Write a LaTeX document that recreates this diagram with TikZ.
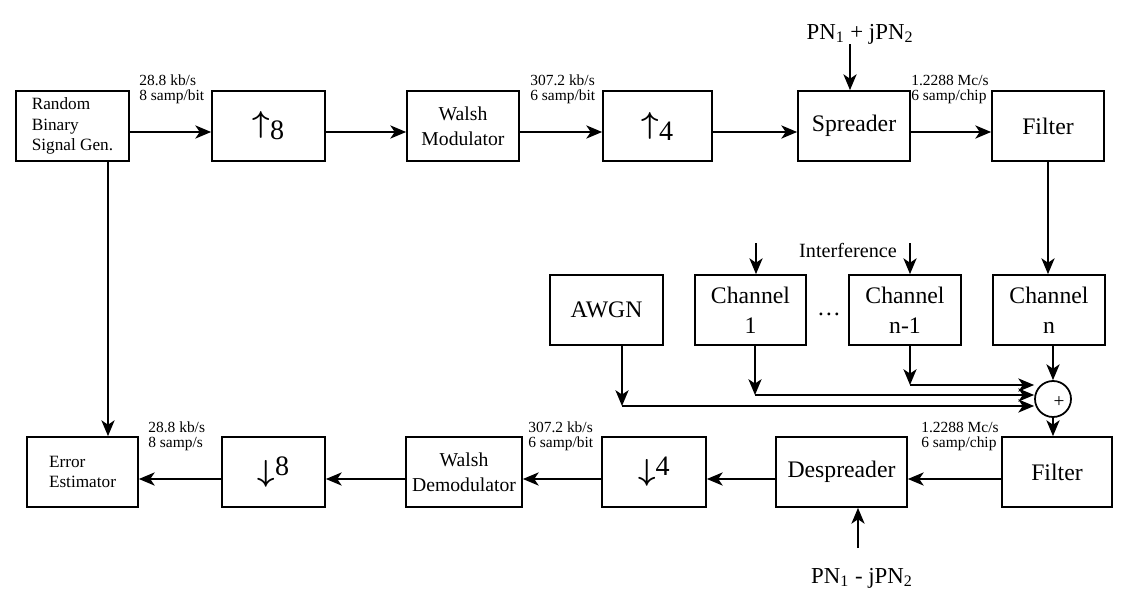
\documentclass[tikz,border=0pt]{standalone}
\usepackage{fontspec}
\setmainfont{Liberation Serif}
\usepackage{amsmath}
\usepackage{amssymb}
\usetikzlibrary{arrows.meta}

\tikzset{
  blk/.style={draw, line width=1pt, minimum height=1.4cm, inner sep=0pt, align=center, font=\fontsize{13.5}{17}\selectfont},
  smallblk/.style={blk, align=left, font=\fontsize{9.8}{11.5}\selectfont},
  midblk/.style={blk, font=\fontsize{11.2}{14}\selectfont},
  ratio/.style={blk, font=\fontsize{16}{18}\selectfont},
  arr/.style={-{Stealth[length=9pt,width=7.5pt,inset=2.5pt]}, line width=1pt},
  rate/.style={anchor=south west, inner sep=0pt, align=left, font=\fontsize{8.8}{8.3}\selectfont},
}

\begin{document}
\begin{tikzpicture}[x=0.02cm, y=-0.02cm]
\useasboundingbox (0,0) rectangle (1134,605);

% transmitter row
\node[smallblk, minimum width=2.26cm] (rbg) at (72.5,126) {Random\\Binary\\Signal Gen.};
\node[ratio, minimum width=2.26cm] (up8) at (268.5,126) {\raisebox{4pt}{$\boldsymbol{\uparrow}$}8};
\node[midblk, minimum width=2.24cm] (wmod) at (463,126) {Walsh\\Modulator};
\node[ratio, minimum width=2.18cm] (up4) at (657.5,126) {\raisebox{4pt}{$\boldsymbol{\uparrow}$}4};
\node[blk, minimum width=2.24cm] (spr) at (854,126) {Spreader};
\node[blk, minimum width=2.24cm] (filt1) at (1048,126) {Filter};

% channel row
\node[blk, minimum width=2.26cm] (awgn) at (606.5,310) {AWGN};
\node[blk, minimum width=2.22cm] (ch1) at (750.5,310) {Channel\\1};
\node[blk, minimum width=2.24cm] (chn1) at (905,310) {Channel\\n-1};
\node[blk, minimum width=2.24cm] (chn) at (1049,310) {Channel\\n};
\node[font=\fontsize{13.5}{16}\selectfont] (dots) at (829,314) {\dots};
\node[draw, circle, line width=1pt, minimum size=0.72cm, inner sep=0pt] (sum) at (1053,399) {};
\node[font=\fontsize{11}{12}\selectfont, inner sep=0pt] (plus) at (1059,402) {+};

% receiver row
\node[smallblk, minimum width=2.22cm] (err) at (82.5,472) {Error\\Estimator};
\node[ratio, minimum width=2.06cm] (dn8) at (273.5,472) {\raisebox{-3pt}{$\boldsymbol{\downarrow}$}8};
\node[midblk, minimum width=2.32cm] (wdem) at (464,472) {Walsh\\Demodulator};
\node[ratio, minimum width=2.08cm] (dn4) at (654,472) {\raisebox{-3pt}{$\boldsymbol{\downarrow}$}4};
\node[blk, minimum width=2.62cm] (desp) at (841.5,472) {Despreader};
\node[blk, minimum width=2.2cm] (filt2) at (1057,472) {Filter};

% rates
\node[rate] (r1) at (139,104) {28.8 kb/s\\8 samp/bit};
\node[rate] (r2) at (530,104) {307.2 kb/s\\6 samp/bit};
\node[rate] (r3) at (911,104) {1.2288 Mc/s\\6 samp/chip};
\node[rate] (r4) at (148,451) {28.8 kb/s\\8 samp/s};
\node[rate] (r5) at (528,451) {307.2 kb/s\\6 samp/bit};
\node[rate] (r6) at (921,451) {1.2288 Mc/s\\6 samp/chip};

% PN codes and interference
\node[font=\fontsize{13}{15}\selectfont] (pnp) at (860,34) {PN\textsubscript{1} + jPN\textsubscript{2}};
\node[font=\fontsize{13}{15}\selectfont] (pnm) at (862,578) {PN\textsubscript{1} - jPN\textsubscript{2}};
\node[font=\fontsize{11.5}{13}\selectfont] (intf) at (848,250) {Interference};

\coordinate (toprow) at (0,132);
\coordinate (botrow) at (0,479);
\coordinate (pin) at (850,44);
\coordinate (pout) at (858,548);
\coordinate (tap) at (108,161);
\coordinate (in1) at (756,243);
\coordinate (in2) at (910,243);
\coordinate (aw) at (622,406);
\coordinate (c1) at (755,395);
\coordinate (c2) at (910,385);

\foreach \a/\b in {rbg/up8, up8/wmod, wmod/up4, up4/spr, spr/filt1}{
  \draw[arr] (\a.east |- toprow) -- (\b.west |- toprow);
}
\foreach \a/\b in {filt2/desp, desp/dn4, dn4/wdem, wdem/dn8, dn8/err}{
  \draw[arr] (\a.west |- botrow) -- (\b.east |- botrow);
}

\draw[arr] (pin) -- (pin |- spr.north);
\draw[arr] (pout) -- (pout |- desp.south);
\draw[arr] (tap) -- (tap |- err.north);
\draw[arr] (filt1.south) -- (filt1.south |- chn.north);
\draw[arr] (in1) -- (in1 |- ch1.north);
\draw[arr] (in2) -- (in2 |- chn1.north);

\draw[arr] (sum.north |- chn.south) -- (sum.north);
\draw[arr] (sum.south) -- (sum.south |- filt2.north);
\draw[arr] (awgn.south -| aw) -- (aw);
\draw[arr] (aw) -- (aw -| sum.west);
\draw[arr] (ch1.south -| c1) -- (c1);
\draw[arr] (c1) -- (c1 -| sum.west);
\draw[arr] (chn1.south -| c2) -- (c2);
\draw[arr] (c2) -- (c2 -| sum.west);

\end{tikzpicture}
\end{document}
